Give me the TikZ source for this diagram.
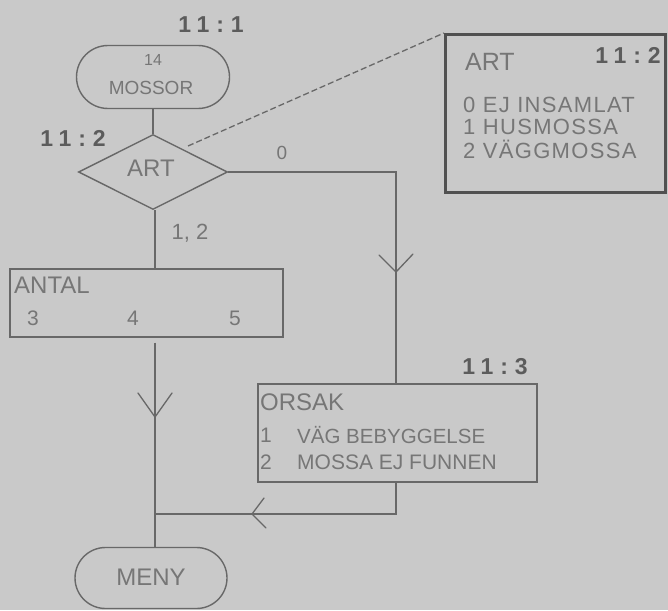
\documentclass[tikz,border=0pt]{standalone}
\usepackage{fontspec}
\setmainfont{Liberation Sans}
\newfontfamily\labfont{Liberation Sans}[LetterSpace=30]
\newfontfamily\widefont{Liberation Sans}[LetterSpace=6]
\usetikzlibrary{shapes.geometric,shapes.misc,calc}
\definecolor{bgc}{RGB}{201,201,201}
\definecolor{lnc}{RGB}{104,104,104}
\definecolor{txc}{RGB}{118,118,118}
\definecolor{lbc}{RGB}{92,92,92}
\definecolor{bxc}{RGB}{80,80,80}
\tikzset{
  ln/.style={draw=lnc, line width=1.4pt},
  stad/.style={rounded rectangle, ln, inner sep=0pt},
  boxr/.style={rectangle, ln, inner sep=0pt},
  txt/.style={text=txc, inner sep=0pt, font=\fontsize{#1}{#1}\selectfont},
  txt/.default=21,
  wtxt/.style={text=txc, inner sep=0pt, anchor=west, font=\widefont\fontsize{22}{22}\selectfont},
  lab/.style={text=lbc, inner sep=0pt, font=\labfont\bfseries\fontsize{23}{23}\selectfont},
  arr/.style={draw=lnc, line width=1.3pt, line cap=round, line join=miter},
}
\begin{document}
\begin{tikzpicture}[x=1pt,y=-1pt]
\fill[bgc] (0,0) rectangle (668,610);
\useasboundingbox (0,0) rectangle (668,610);

% nodes
\node[stad, minimum width=153pt, minimum height=63pt] (mossor) at (153,77) {};
\node[txt=16] (t14) at (153,60) {14};
\node[txt=19] (tmossor) at (151,88) {MOSSOR};
\node[lab] (l111) at (211,25) {11:1};

\node[diamond, ln, minimum width=149pt, minimum height=75pt, inner sep=0pt] (art) at (153,172) {};
\node[txt=24] (tart) at (151,168) {ART};
\node[lab] (l112) at (73,138) {11:2};
\node[txt=19] (l0) at (282,153) {0};
\node[txt=22] (l12) at (190,233) {1, 2};

\node[boxr, minimum width=273pt, minimum height=68pt] (antal) at (146.5,303) {};
\node[txt=24, anchor=west] (tantal) at (14,285) {ANTAL};
\node[txt=21] (t3) at (33,318) {3};
\node[txt=21] (t4) at (133,318) {4};
\node[txt=21] (t5) at (235,318) {5};

\node[boxr, minimum width=279pt, minimum height=98pt] (orsak) at (397.5,433) {};
\node[lab] (l113) at (495,367) {11:3};
\node[txt=24, anchor=west] (torsak) at (260,402) {ORSAK};
\node[txt=21] (to1) at (266,435) {1};
\node[txt=20.5, anchor=west] (to1t) at (297,435) {VÄG BEBYGGELSE};
\node[txt=21] (to2) at (266,462) {2};
\node[txt=21, anchor=west] (to2t) at (297,462) {MOSSA EJ FUNNEN};

\node[stad, minimum width=152pt, minimum height=61pt] (meny) at (151,578) {};
\node[txt=24] (tmeny) at (151,577) {MENY};

\node[rectangle, draw=bxc, line width=3pt, minimum width=220pt, minimum height=158pt] (artbox) at (555.5,113.5) {};
\node[txt=25, anchor=west] (tabart) at (465,62) {ART};
\node[lab, anchor=east] (l112b) at (661,55) {11:2};
\node[wtxt] (ta0) at (463,105) {0 EJ INSAMLAT};
\node[wtxt] (ta1) at (463,127) {1 HUSMOSSA};
\node[wtxt] (ta2) at (463,149) {2 VÄGGMOSSA};

% helper coordinates
\coordinate (lx) at (155,0);
\coordinate (rx) at (396,0);
\coordinate (j) at (155,514);
\coordinate (v1) at (396,272);
\coordinate (v2) at (155,417);
\coordinate (v3) at (252,514);
\coordinate (ds) at (188,146);

% connectors
\draw[ln] (mossor.south) -- (art.north);
\draw[ln] (art.east) -- (art.east -| rx) -- (orsak.north -| rx);
\draw[ln] (art.south -| lx) -- (antal.north -| lx);
\draw[ln] ($(antal.south -| lx)+(0,5)$) -- (meny.north -| lx);
\draw[ln] (orsak.south -| rx) -- (j -| rx) -- (j);
\draw[draw=lnc, line width=1.3pt, dash pattern=on 6pt off 3pt] (ds) -- (artbox.north west);

% open arrowheads
\draw[arr] ($(v1)+(-17,-17)$) -- (v1) -- ($(v1)+(17,-18)$);
\draw[arr] ($(v2)+(-17,-24)$) -- (v2) -- ($(v2)+(17,-24)$);
\draw[arr] ($(v3)+(12,-16)$) -- (v3) -- ($(v3)+(14,14)$);
\end{tikzpicture}
\end{document}
